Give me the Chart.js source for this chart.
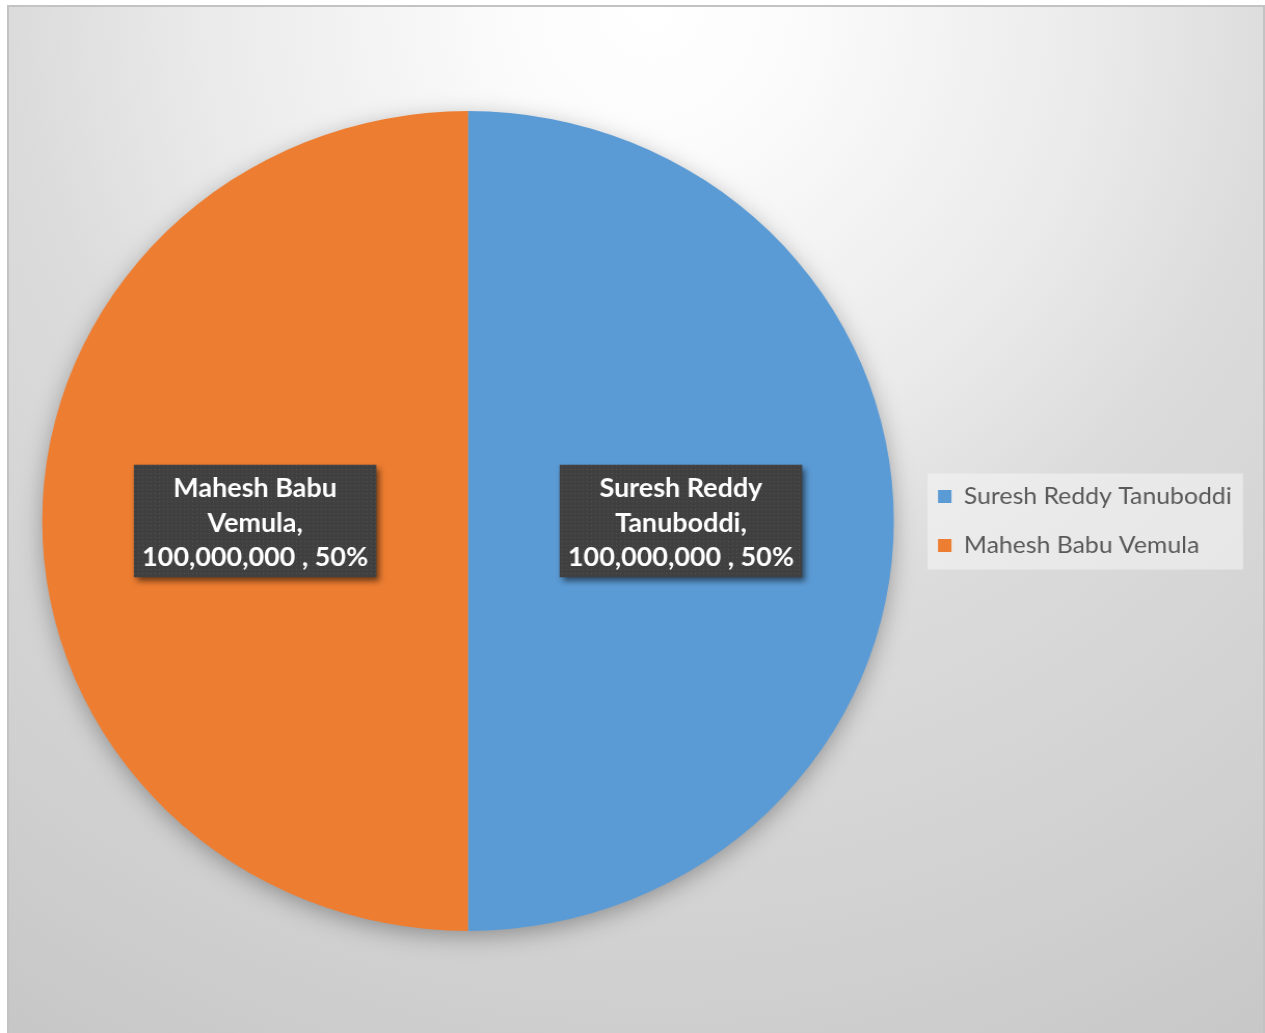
<!DOCTYPE html>
<html><head><meta charset="utf-8">
<script src="https://cdn.jsdelivr.net/npm/chart.js@4.4.0/dist/chart.umd.min.js"></script>
<style>
html,body{margin:0;padding:0;background:#fff;width:1265px;height:1033px;overflow:hidden;}
#frame{position:absolute;left:7px;top:5px;width:1254px;height:1040px;border:2px solid #c3c3c3;
 background: radial-gradient(circle 1300px at 642px 0px, #ffffff 0px, #fbfbfb 150px, #eaeaea 450px, #dbdbdb 640px, #cfcfcf 1000px, #c3c3c3 1300px);}
#wrap{position:absolute;left:0;top:0;width:1218px;height:1033px;transform:scaleX(1.0386);transform-origin:0 0;}
</style></head><body>
<div id="frame"></div>
<div id="wrap"><canvas id="c" width="1218" height="1033"></canvas></div>
<script>
const categories = ['Suresh Reddy Tanuboddi', 'Mahesh Babu Vemula'];
const values = [100000000, 100000000];
const sliceColors = ['#5B9BD5', '#ED7D31'];

const SX = 1.0386;           // horizontal stretch of the original picture
const FONT = 'Lato';
const total = values.reduce((a, b) => a + b, 0);
function valueLine(i) {
  return values[i].toLocaleString('en-US') + ' , ' + Math.round(values[i] / total * 100) + '%';
}
const mc = document.createElement('canvas').getContext('2d');
function fitSize(text, weight, target) {
  mc.font = weight + ' 100px ' + FONT;
  return 100 * target / mc.measureText(text).width;
}
const legendSize = fitSize(categories[0], 'normal', 268 / SX);
const labelSize = fitSize(valueLine(0), 'bold', 226 / SX);
const legendPad = 49 - legendSize;

// dotted texture for label boxes
const pc = document.createElement('canvas'); pc.width = 4; pc.height = 4;
const pctx = pc.getContext('2d');
pctx.fillStyle = 'rgba(255,255,255,0.10)'; pctx.fillRect(1, 1, 1, 1);

function wrap(ctx, text, maxW) {
  const words = text.split(' '); const out = []; let cur = '';
  words.forEach(w => {
    const t = cur ? cur + ' ' + w : w;
    if (cur && ctx.measureText(t).width > maxW) { out.push(cur); cur = w; } else cur = t;
  });
  if (cur) out.push(cur);
  return out;
}

const pieShadow = {
  id: 'pieShadow',
  beforeDatasetsDraw(chart) {
    const a = chart.getDatasetMeta(0).data[0]; if (!a) return;
    const ctx = chart.ctx; ctx.save();
    ctx.shadowColor = 'rgba(0,0,0,0.35)'; ctx.shadowBlur = 24; ctx.shadowOffsetY = 6;
    ctx.fillStyle = '#aaa'; ctx.beginPath(); ctx.arc(a.x, a.y, a.outerRadius - 2, 0, Math.PI * 2); ctx.fill();
    ctx.restore();
  }
};

const legendBg = {
  id: 'legendBg',
  beforeDraw(chart) {
    const hb = chart.legend && chart.legend.legendHitBoxes; if (!hb || !hb.length) return;
    const left = Math.min(...hb.map(h => h.left)) - 10;
    const right = Math.max(...hb.map(h => h.left + h.width)) + 11;
    const top = hb[0].top + hb[0].height / 2 - 23;
    const last = hb[hb.length - 1];
    const bottom = last.top + last.height / 2 + 24;
    const ctx = chart.ctx; ctx.save();
    ctx.fillStyle = 'rgba(245,245,245,0.55)';
    ctx.fillRect(left, top, right - left, bottom - top);
    ctx.restore();
  }
};

const dataLabels = {
  id: 'dataLabels',
  afterDatasetsDraw(chart) {
    const ctx = chart.ctx;
    const meta = chart.getDatasetMeta(0);
    meta.data.forEach((arc, i) => {
      const p = arc.tooltipPosition();
      ctx.save();
      ctx.font = 'bold ' + labelSize + 'px ' + FONT;
      const lines = wrap(ctx, categories[i] + ',', 190);
      lines.push(valueLine(i));
      const lh = 34.5;
      const w = Math.max(...lines.map(l => ctx.measureText(l).width)) + 16;
      const h = lines.length * lh + 9;
      const x = p.x - w / 2, y = p.y - h / 2;
      ctx.shadowColor = 'rgba(0,0,0,0.55)'; ctx.shadowBlur = 6; ctx.shadowOffsetX = 3; ctx.shadowOffsetY = 4;
      ctx.fillStyle = '#404040'; ctx.fillRect(x, y, w, h);
      ctx.shadowColor = 'transparent'; ctx.shadowBlur = 0; ctx.shadowOffsetX = 0; ctx.shadowOffsetY = 0;
      ctx.fillStyle = ctx.createPattern(pc, 'repeat'); ctx.fillRect(x, y, w, h);
      ctx.fillStyle = '#ffffff'; ctx.textAlign = 'center'; ctx.textBaseline = 'middle';
      lines.forEach((l, k) => ctx.fillText(l, p.x, y + 7 + lh * (k + 0.5)));
      ctx.restore();
    });
  }
};

const chart = new Chart(document.getElementById('c'), {
  type: 'pie',
  data: {
    labels: categories,
    datasets: [{ data: values, backgroundColor: sliceColors, borderWidth: 0, radius: 410 }]
  },
  options: {
    responsive: false, animation: false, events: [],
    layout: { padding: { left: 20, right: 20, top: 10, bottom: 1 } },
    plugins: {
      legend: {
        position: 'right',
        labels: { boxWidth: 13, boxHeight: 13, padding: legendPad, color: '#595959',
                  font: { family: FONT, size: legendSize } }
      },
      tooltip: { enabled: false }
    }
  },
  plugins: [legendBg, pieShadow, dataLabels]
});
const lgLeft = 938 / SX - legendPad;
chart.options.layout.padding.right = chart.width - lgLeft - chart.legend.width;
chart.options.layout.padding.left = 2 * (468 / SX) - lgLeft;
chart.update();
</script>
</body></html>
